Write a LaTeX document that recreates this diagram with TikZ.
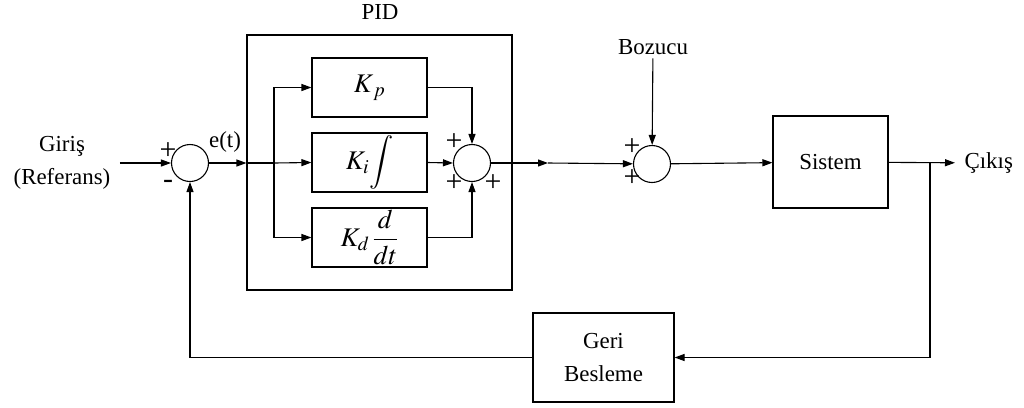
\documentclass[tikz,border=0pt]{standalone}
\usepackage{mathptmx}
\usepackage{fontspec}
\setmainfont{Liberation Serif}
\usetikzlibrary{arrows.meta}

\begin{document}
\begin{tikzpicture}[x=1bp,y=-1bp,>={Triangle[length=10bp,width=7bp]},line width=1.1bp,
  every node/.style={font=\fontsize{23}{33}\selectfont},
  blok/.style={draw,rectangle,inner sep=0pt},
  kblok/.style={blok,minimum width=115bp,minimum height=59bp,font=\fontsize{27}{33}\selectfont},
  toplam/.style={draw,circle,minimum size=37bp,inner sep=0pt},
  isaret/.style={inner sep=0pt,font=\fontsize{30}{30}\selectfont}]
\useasboundingbox (0,0) rectangle (1024,407);
% bloklar
\node[blok,minimum width=265bp,minimum height=255bp] (pid) at (379.5,162.5) {};
\node (pidlbl) at (380,12) {PID};
\node[kblok] (kp) at (369.5,87.5) {$K_{\,p}$};
\node[kblok] (ki) at (369.5,162.5) {$\displaystyle K_i\!\int$};
\node[kblok] (kd) at (369.5,237.5) {$\displaystyle K_d\,\frac{d}{dt}$};
\node[blok,minimum width=115bp,minimum height=92bp] (sys) at (830.5,162) {Sistem};
\node[blok,minimum width=141bp,minimum height=89bp,align=center] (gb) at (603.5,357.5) {Geri\\Besleme};
% toplama noktalari
\node[toplam] (s1) at (190,163) {};
\node[toplam] (s2) at (472,163) {};
\node[toplam] (s3) at (652,164) {};
% yazilar
\node[align=center,inner xsep=9bp] (giris) at (62,163) {Giriş\\(Referans)};
\node (et) at (225,142) {e(t)};
\node (bz) at (653,47) {Bozucu};
\node[anchor=west,inner xsep=9bp] (cikis) at (955,163) {Çıkış};
\node[isaret] (p1) at (168,151) {+};
\node[isaret] (m1) at (168,184) {-};
\node[isaret] (p2) at (454,142) {+};
\node[isaret] (p3) at (454,183) {+};
\node[isaret] (p4) at (493,183) {+};
\node[isaret] (p5) at (632,147) {+};
\node[isaret] (p6) at (632,178) {+};
% noktalar
\coordinate (j) at (274,163);
\coordinate (m) at (548,163);
\coordinate (b) at (930,163);
% baglantilar
\draw[->] (giris) -- (s1);
\draw[->] (s1) -- (s1 -| pid.west);
\draw (s1 -| pid.west) -- (j);
\draw[->] (j) |- (kp.west);
\draw[->] (j) -- (ki.west);
\draw[->] (j) |- (kd.west);
\draw[->] (kp.east) -| (s2.north);
\draw[->] (ki.east) -- (s2.west);
\draw[->] (kd.east) -| (s2.south);
\draw[->] (s2) -- (m);
\draw[->] (m) -- (s3);
\draw[->] (bz) -- (s3);
\draw[->] (s3) -- (sys);
\draw[->] (sys) -- (cikis);
\draw[->] (b) |- (gb.east);
\draw[->] (gb.west) -| (s1.south);
\end{tikzpicture}
\end{document}
